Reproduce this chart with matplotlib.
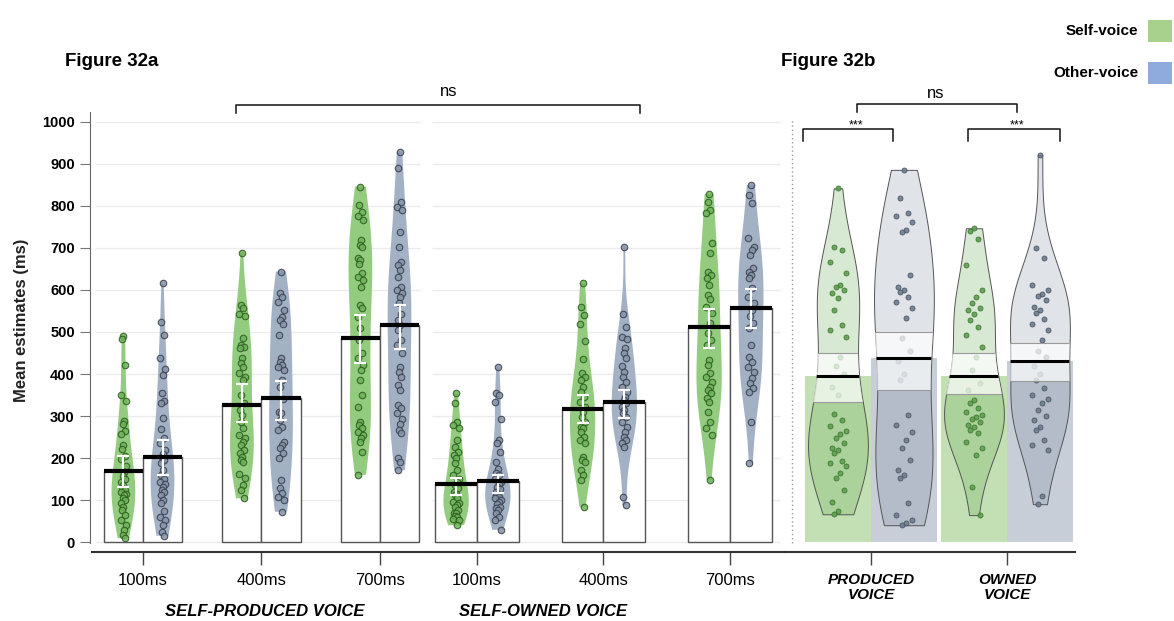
import numpy as np
import matplotlib
matplotlib.use("Agg")
import matplotlib.pyplot as plt
from matplotlib.lines import Line2D
from matplotlib.patches import Rectangle

plt.rcParams['font.family'] = ['Liberation Sans', 'DejaVu Sans']

# ---------------- data ----------------
durations = ["100ms", "400ms", "700ms"]

# Figure 32a – per-participant mean estimates (ms)
prod_self_100 = [491, 483, 422, 350, 336, 287, 280, 265, 258, 231, 222, 205, 198, 180, 167, 157, 150, 143,
                 136, 129, 124, 120, 115, 112, 105, 100, 92, 84, 76, 64, 52, 40, 29, 17, 9]
prod_other_100 = [616, 523, 493, 437, 412, 397, 354, 336, 332, 295, 270, 247, 235, 219, 210, 203, 195, 187,
                  171, 159, 150, 143, 137, 131, 125, 120, 112, 100, 92, 75, 60, 52, 40, 25, 15]
prod_self_400 = [689, 564, 556, 544, 538, 486, 469, 465, 461, 437, 427, 417, 402, 394, 385, 350, 330, 314,
                 302, 286, 271, 255, 247, 239, 231, 219, 211, 203, 195, 191, 163, 152, 136, 125, 104]
prod_other_400 = [644, 592, 584, 572, 552, 536, 529, 520, 493, 437, 429, 422, 417, 410, 386, 370, 340, 310,
                  306, 290, 274, 267, 239, 231, 223, 211, 199, 148, 128, 116, 108, 100, 72]
prod_self_700 = [846, 802, 786, 776, 767, 719, 707, 703, 675, 671, 663, 640, 631, 624, 608, 564, 556, 536,
                 509, 481, 449, 437, 421, 410, 386, 350, 322, 286, 279, 271, 263, 255, 247, 239, 215, 160]
prod_other_700 = [929, 890, 810, 798, 790, 739, 703, 667, 660, 648, 632, 608, 600, 592, 584, 568, 544, 529,
                  517, 505, 481, 469, 449, 417, 405, 394, 374, 362, 326, 318, 306, 294, 282, 267, 259, 199,
                  191, 171]
owned_self_100 = [354, 330, 286, 279, 271, 243, 227, 215, 207, 199, 187, 171, 160, 150, 144, 135, 128, 120,
                  115, 112, 104, 96, 92, 88, 84, 76, 70, 68, 62, 60, 55, 52, 40]
owned_other_100 = [417, 354, 350, 334, 292, 243, 235, 215, 191, 175, 165, 160, 150, 144, 138, 132, 126, 120,
                   115, 112, 108, 104, 100, 96, 90, 84, 80, 76, 68, 60, 52, 29]
owned_self_400 = [616, 560, 540, 520, 479, 436, 402, 394, 386, 370, 356, 346, 334, 322, 310, 298, 286, 274,
                  271, 263, 251, 243, 235, 203, 195, 191, 171, 160, 148, 84]
owned_other_400 = [702, 543, 511, 489, 483, 461, 451, 437, 419, 405, 394, 382, 370, 358, 346, 338, 330, 322,
                   314, 306, 298, 286, 274, 263, 251, 243, 235, 227, 108, 88]
owned_self_700 = [829, 810, 790, 783, 711, 687, 644, 636, 628, 612, 588, 579, 560, 545, 521, 497, 481, 469,
                  433, 421, 402, 394, 382, 370, 362, 354, 342, 334, 310, 286, 271, 255, 148]
owned_other_700 = [850, 826, 806, 723, 703, 695, 683, 652, 644, 636, 628, 604, 584, 568, 552, 537, 521, 509,
                   469, 441, 429, 417, 405, 390, 378, 366, 358, 286, 187]

prod_self_mean = [168, 327, 486]
prod_other_mean = [202, 343, 517]
owned_self_mean = [139, 317, 512]
owned_other_mean = [146, 333, 558]

prod_self_err_lo = [131, 285, 426]
prod_self_err_hi = [204, 377, 540]
prod_other_err_lo = [160, 291, 460]
prod_other_err_hi = [244, 383, 564]
owned_self_err_lo = [113, 283, 462]
owned_self_err_hi = [152, 351, 555]
owned_other_err_lo = [117, 295, 510]
owned_other_err_hi = [160, 361, 602]

# Figure 32b – pooled over durations
voice_labels = ["PRODUCED\nVOICE", "OWNED\nVOICE"]
produced_self = [842, 703, 695, 667, 640, 612, 608, 600, 592, 580, 552, 517, 505, 489, 440, 420,
                 400, 370, 350, 305, 290, 276, 264, 258, 247, 235, 225, 218, 212, 194, 188, 182, 165, 153,
                 124, 95, 74, 66]
produced_other = [886, 818, 783, 775, 763, 743, 739, 636, 608, 600, 596, 584, 572, 556, 533, 485, 455, 430,
                  400, 385, 302, 278, 261, 243, 225, 195, 171, 159, 153, 94, 64, 52, 46, 40]
owned_self = [747, 740, 722, 660, 600, 584, 568, 556, 552, 544, 528, 513, 493, 465, 441, 410, 378,
              362, 338, 330, 318, 310, 302, 298, 294, 286, 279, 275, 267, 259, 239, 223, 207, 132, 64]
owned_other = [921, 700, 676, 612, 600, 590, 585, 575, 560, 552, 545, 530, 520, 505, 480, 455, 440, 420, 400,
               385, 366, 350, 340, 330, 314, 300, 290, 275, 267, 243, 230, 219, 110, 90]
pooled_self_mean = [395, 395]
pooled_other_mean = [437, 430]
pooled_self_band = [(334, 451), (352, 450)]
pooled_other_band = [(362, 500), (383, 474)]

# ---------------- layout ----------------
W, H = 1174, 621
fig = plt.figure(figsize=(W / 100, H / 100), dpi=100)


def box(x0, x1, y_top, y_bot):
    return [x0 / W, 1 - y_bot / H, (x1 - x0) / W, (y_bot - y_top) / H]


def fx(px):
    return px / W


def fy(py):
    return 1 - py / H


YLIM = (-23.8, 1023.8)
ax1 = fig.add_axes(box(90, 427, 112, 552))
ax2 = fig.add_axes(box(427, 785, 112, 552))
ax3 = fig.add_axes(box(785, 1080, 112, 552))
for ax in (ax1, ax2, ax3):
    ax.set_facecolor("none")
    ax.set_ylim(*YLIM)
    for s in ("top", "right", "left"):
        ax.spines[s].set_visible(False)
    ax.spines["bottom"].set_color("#333333")
    ax.spines["bottom"].set_linewidth(1.5)
    ax.tick_params(axis="x", direction="out", length=9, width=1, color="#444444", pad=6, labelsize=12)
ax1.set_xlim(-0.447, 2.397)
ax2.set_xlim(-0.395, 2.435)
ax3.set_xlim(-0.632, 1.537)

ax1.spines["bottom"].set_bounds(-0.43, 2.397)
ax3.spines["bottom"].set_bounds(-0.632, 1.5)

# y axis on the first panel only
ax1.spines["left"].set_visible(True)
ax1.spines["left"].set_color("#666666")
ax1.spines["left"].set_bounds(-2, YLIM[1])
yt = np.arange(0, 1001, 100)
ax1.set_yticks(yt)
ax1.set_yticklabels([str(v) for v in yt], fontweight="bold", fontsize=10.5)
ax1.tick_params(axis="y", length=7, color="#777777", pad=4)
for ax in (ax2, ax3):
    ax.set_yticks([])

# gridlines
ax1.hlines(yt, -0.405, 2.34, color="#ebebeb", lw=1, zorder=0)
ax2.hlines(yt, -0.356, 2.395, color="#ebebeb", lw=1, zorder=0)

GREEN_V = "#93cb7f"
BLUE_V = "#a3b1c4"
GREEN_PT = ("#6cb257", "#2b5a1f")
BLUE_PT = ("#8593a8", "#363e4b")
jit = np.array([0, -1, 1, -2, 2, 0.5, -0.5, 1.5, -1.5])


def panel_a(ax, self_sets, other_sets, self_mean, other_mean,
            s_lo, s_hi, o_lo, o_hi):
    pos = np.arange(len(durations))
    bw = 0.33
    vw = 0.2
    for k, (sets, mean, lo, hi, vcol, ptc, sgn) in enumerate([
            (self_sets, self_mean, s_lo, s_hi, GREEN_V, GREEN_PT, -1),
            (other_sets, other_mean, o_lo, o_hi, BLUE_V, BLUE_PT, 1)]):
        xc = pos + sgn * bw / 2
        ax.bar(xc, mean, width=bw, facecolor="white", edgecolor="#555555", lw=1.0, zorder=1)
        vp = ax.violinplot(sets, positions=xc, widths=vw, showextrema=False)
        for b in vp["bodies"]:
            b.set_alpha(None)
            b.set_facecolor(vcol)
            b.set_edgecolor("none")
            b.set_zorder(2)
        for i, vals in enumerate(sets):
            v = np.asarray(vals)
            off = np.resize(jit, len(v)) * 0.011
            ax.scatter(xc[i] + off, v, s=22, facecolor=ptc[0], edgecolor=ptc[1],
                       linewidth=0.8, alpha=0.85, zorder=3)
        m = np.asarray(mean)
        ax.errorbar(xc, m, yerr=[m - np.asarray(lo), np.asarray(hi) - m], fmt="none",
                    ecolor="white", elinewidth=1.6, capsize=4, capthick=1.6, zorder=4)
        ax.hlines(m, xc - bw / 2, xc + bw / 2, color="black", lw=3, zorder=5)
    ax.set_xticks(pos)
    ax.set_xticklabels(durations)


panel_a(ax1, [prod_self_100, prod_self_400, prod_self_700],
        [prod_other_100, prod_other_400, prod_other_700],
        prod_self_mean, prod_other_mean,
        prod_self_err_lo, prod_self_err_hi, prod_other_err_lo, prod_other_err_hi)
panel_a(ax2, [owned_self_100, owned_self_400, owned_self_700],
        [owned_other_100, owned_other_400, owned_other_700],
        owned_self_mean, owned_other_mean,
        owned_self_err_lo, owned_self_err_hi, owned_other_err_lo, owned_other_err_hi)

# ---------------- panel b ----------------
pos_b = np.arange(len(voice_labels))
bw_b = 0.485
ax3.axvline(-0.581, ymin=0.02, ymax=0.985, color="#9a9a9a", lw=1, ls=(0, (1, 2)), zorder=0)
for sets, means, bands, bar_col, vio_col, ptc, sgn in [
        ([produced_self, owned_self], pooled_self_mean, pooled_self_band, "#c2e0b4",
         (0.39, 0.67, 0.31, 0.25), ("#5f9f4f", "#3b7530"), -1),
        ([produced_other, owned_other], pooled_other_mean, pooled_other_band, "#c8ced8",
         (0.40, 0.46, 0.56, 0.20), ("#6f7d90", "#46505f"), 1)]:
    xc = pos_b + sgn * bw_b / 2
    ax3.bar(xc, means, width=bw_b, color=bar_col, edgecolor="none", zorder=1)
    vp = ax3.violinplot(sets, positions=xc, widths=0.44, showextrema=False)
    for i, b in enumerate(vp["bodies"]):
        b.set_alpha(None)
        b.set_facecolor(vio_col)
        b.set_edgecolor("#555555")
        b.set_linewidth(0.7)
        b.set_zorder(2)
        v = np.asarray(sets[i])
        off = np.resize(jit, len(v)) * 0.028
        ax3.scatter(xc[i] + off, v, s=13, facecolor=ptc[0], edgecolor=ptc[1],
                    linewidth=0.6, alpha=0.9, zorder=3)
        clip = (b.get_paths()[0], ax3.transData)
        lo, hi = bands[i]
        band = Rectangle((xc[i] - 0.3, lo), 0.6, hi - lo, facecolor=(1, 1, 1, 0.72),
                         edgecolor="none", zorder=4)
        ax3.add_patch(band)
        band.set_clip_path(*clip)
        for yb in (lo, hi):
            ln = ax3.plot([xc[i] - 0.3, xc[i] + 0.3], [yb, yb], color="#9a9a9a", lw=0.8, zorder=4.5)[0]
            ln.set_clip_path(*clip)
        ml = ax3.plot([xc[i] - 0.3, xc[i] + 0.3], [means[i], means[i]], color="black", lw=2.2, zorder=5)[0]
        ml.set_clip_path(*clip)
ax3.set_xticks(pos_b)
ax3.set_xticklabels(voice_labels, fontsize=11, fontweight="bold", fontstyle="italic", linespacing=1.15)

# ---------------- annotations ----------------
def bracket(x0, x1, y_bar, y_leg, lw=1.1):
    fig.add_artist(Line2D([fx(x0), fx(x0), fx(x1), fx(x1)],
                          [fy(y_leg), fy(y_bar), fy(y_bar), fy(y_leg)],
                          color="#111111", lw=lw, transform=fig.transFigure))


bracket(236, 640, 105, 113)
fig.text(fx(449), fy(92), "ns", ha="center", va="center", fontsize=12)
bracket(857, 1017, 104, 112)
fig.text(fx(936), fy(93), "ns", ha="center", va="center", fontsize=12)
bracket(803, 893, 129, 141)
bracket(968, 1060, 129, 141)
fig.text(fx(856), fy(125), "***", ha="center", va="center", fontsize=9)
fig.text(fx(1017), fy(125), "***", ha="center", va="center", fontsize=9)

fig.text(fx(65), fy(62), "Figure 32a", ha="left", va="center", fontsize=13.5, fontweight="bold")
fig.text(fx(781), fy(62), "Figure 32b", ha="left", va="center", fontsize=13.5, fontweight="bold")
fig.text(fx(22), fy(320), "Mean estimates (ms)", rotation=90, ha="center", va="center",
         fontsize=12, fontweight="bold", color="#222222")
fig.text(fx(265), fy(612), "SELF-PRODUCED VOICE", ha="center", va="center", fontsize=12,
         fontweight="bold", fontstyle="italic")
fig.text(fx(543), fy(612), "SELF-OWNED VOICE", ha="center", va="center", fontsize=12,
         fontweight="bold", fontstyle="italic")

# legend
for label, col, yc in [("Self-voice", "#a9d18e", 31), ("Other-voice", "#8faadc", 73)]:
    fig.text(fx(1138), fy(yc), label, ha="right", va="center", fontsize=11, fontweight="bold")
    fig.add_artist(Rectangle((fx(1148), fy(yc + 11)), fx(24), (22 / H), facecolor=col,
                             edgecolor="none", transform=fig.transFigure))

fig.savefig("out.png", dpi=100)
